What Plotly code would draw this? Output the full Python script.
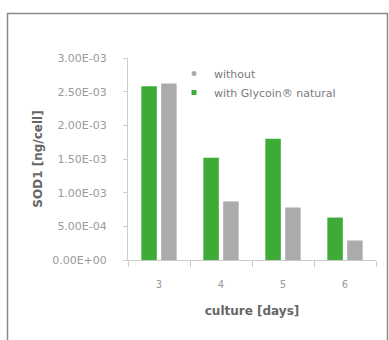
import plotly.graph_objects as go

days = ["3", "4", "5", "6"]
with_glycoin = [2.58e-3, 1.52e-3, 1.80e-3, 0.63e-3]
without = [2.62e-3, 0.87e-3, 0.78e-3, 0.29e-3]
y_tickvals = [0, 5e-4, 1e-3, 1.5e-3, 2e-3, 2.5e-3, 3e-3]
y_ticktext = ["0.00E+00", "5.00E-04", "1.00E-03", "1.50E-03", "2.00E-03", "2.50E-03", "3.00E-03"]
series_names = ["with Glycoin® natural", "without"]

GREEN = "#3dab35"
GRAY = "#ababab"
FONT = "DejaVu Sans"

fig = go.Figure()
fig.add_trace(go.Bar(x=days, y=with_glycoin, name=series_names[0], showlegend=False,
                     marker=dict(color=GREEN, line=dict(width=0))))
fig.add_trace(go.Bar(x=days, y=without, name=series_names[1], showlegend=False,
                     marker=dict(color=GRAY, line=dict(width=0))))
# legend entries with small square markers
fig.add_trace(go.Scatter(x=[None], y=[None], mode="markers", name=series_names[0],
                         marker=dict(symbol="square", size=5, color=GREEN)))
fig.add_trace(go.Scatter(x=[None], y=[None], mode="markers", name=series_names[1],
                         marker=dict(symbol="circle", size=5, color=GRAY)))

W, H = 389, 340
L, R, T, B = 128, 13, 58, 80
pw, ph = W - L - R, H - T - B

fig.update_layout(
    width=W, height=H,
    margin=dict(l=L, r=R, t=T, b=B),
    paper_bgcolor="white", plot_bgcolor="white",
    barmode="group", bargap=0.36, bargroupgap=0.22,
    font=dict(family=FONT, color="#888888", size=10),
    showlegend=True,
    legend=dict(x=(174 - L) / pw, y=(260 - 59) / ph, xanchor="left", yanchor="top",
                traceorder="reversed", bgcolor="rgba(0,0,0,0)",
                font=dict(size=11, color="#7a7a7a", family=FONT),
                itemwidth=30, tracegroupgap=0),
    xaxis=dict(showline=True, linecolor="#cccccc", linewidth=1,
               ticks="outside", ticklen=6, tickcolor="#cccccc",
               tickson="boundaries", showgrid=False, ticklabelstandoff=15,
               tickfont=dict(size=10, color="#9a9a9a"),
               title=dict(text="<b>culture [days]</b>", font=dict(size=12, color="#666666"), standoff=17)),
    yaxis=dict(range=[0, 3e-3], tickvals=y_tickvals, ticktext=y_ticktext,
               showline=True, linecolor="#cccccc", linewidth=1,
               ticks="outside", ticklen=4, tickcolor="#cccccc", ticklabelstandoff=14,
               showgrid=False, zeroline=False,
               tickfont=dict(size=11, color="#9a9a9a"),
               title=dict(text="<b>SOD1 [ng/cell]</b>", font=dict(size=12, color="#666666"), standoff=6)),
)

fig.add_shape(type="rect", xref="paper", yref="paper",
              x0=(7.5 - L) / pw, x1=(387.5 - L) / pw,
              y0=(260 - 420) / ph, y1=(260 - 13.5) / ph,
              line=dict(color="#8a8a8a", width=1.5), fillcolor="rgba(0,0,0,0)", layer="below")

fig.write_html("out.html", config={"displayModeBar": False},
               post_script="document.body.style.margin='0';")
